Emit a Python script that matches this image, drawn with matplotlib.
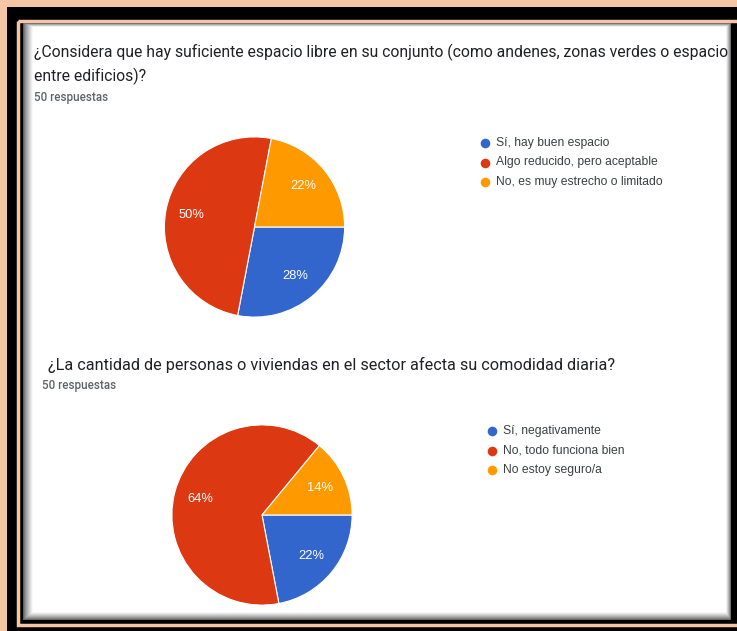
import numpy as np
import matplotlib
matplotlib.use("Agg")
import matplotlib.pyplot as plt
from matplotlib.patches import Rectangle

plt.rcParams['font.family'] = ['Roboto', 'DejaVu Sans']

# ---- data ----
q1_title = ["¿Considera que hay suficiente espacio libre en su conjunto (como andenes, zonas verdes o espacio",
            "entre edificios)?"]
q1_labels = ["Sí, hay buen espacio", "Algo reducido, pero aceptable", "No, es muy estrecho o limitado"]
q1_values = [28, 50, 22]

q2_title = ["¿La cantidad de personas o viviendas en el sector afecta su comodidad diaria?"]
q2_labels = ["Sí, negativamente", "No, todo funciona bien", "No estoy seguro/a"]
q2_values = [22, 64, 14]

responses = "50 respuestas"
colors = ["#3366CC", "#DC3912", "#FF9900"]

W, H = 737, 631
fig = plt.figure(figsize=(W / 100, H / 100), dpi=100)
fig.patch.set_facecolor("#F5C6A5")

bg = fig.add_axes([0, 0, 1, 1])
bg.set_xlim(0, W)
bg.set_ylim(H, 0)
bg.axis("off")

# frame
bg.add_patch(Rectangle((7, 7), W, H, facecolor="black", edgecolor="none"))
bg.add_patch(Rectangle((18.5, 20.5), W, 604, facecolor="none", edgecolor="#F5C6A5", linewidth=2.5))

# white panel with shadow gradient
x0, y0, x1, y1 = 23, 23, 731, 620
pw, ph = x1 - x0, y1 - y0
xx = np.arange(pw)[None, :] + 0.5
yy = np.arange(ph)[:, None] + 0.5
dl = xx / 10.0
dr = (pw - xx) / 5.0
dt = yy / 4.0
db = (ph - yy) / 8.0
d = np.minimum(np.minimum(dl, dr), np.minimum(dt, db))
val = 0.3 + 0.7 * np.clip(d, 0, 1) ** 0.7
img = np.dstack([val, val, val])
bg.imshow(img, extent=(x0, x1, y1, y0), interpolation="bilinear", aspect="auto", zorder=1)
bg.set_xlim(0, W)
bg.set_ylim(H, 0)

title_color = "#202124"
sub_color = "#5f6368"
arial = ['Liberation Sans', 'DejaVu Sans']

# titles
for i, line in enumerate(q1_title):
    bg.text(34, 52 + i * 24, line, fontsize=11.35, color=title_color, va="center", ha="left", zorder=3)
bg.text(34, 98, responses, fontsize=8.4, color=sub_color, va="center", ha="left", fontweight="medium", zorder=3)

for i, line in enumerate(q2_title):
    bg.text(48, 365 + i * 24, line, fontsize=11.7, color=title_color, va="center", ha="left", zorder=3)
bg.text(42, 385, responses, fontsize=8.4, color=sub_color, va="center", ha="left", fontweight="medium", zorder=3)


def draw_pie(cx, cy, r, values, labels, lx, ly, ltx):
    ax = fig.add_axes([(cx - r) / W, 1 - (cy + r) / H, 2 * r / W, 2 * r / H])
    ax.pie(values, colors=colors, startangle=0, counterclock=False,
           autopct=lambda p: f"{p:.0f}%", pctdistance=0.71,
           wedgeprops=dict(edgecolor="white", linewidth=0.8),
           textprops=dict(color="white", fontsize=9.3, family=arial))
    ax.set_xlim(-1.01, 1.01)
    ax.set_ylim(-1.01, 1.01)
    ax.set_aspect("equal")
    ax.axis("off")
    for i, (lab, col) in enumerate(zip(labels, colors)):
        y = ly + i * 19.5
        bg.scatter([lx], [y], s=48, color=col, zorder=4, linewidths=0)
        bg.text(ltx, y, lab, fontsize=8.7, color="#3c4043", va="center", ha="left", zorder=4, family=arial)


draw_pie(254.5, 227, 91, q1_values, q1_labels, 485, 143, 496)
draw_pie(262, 515, 91, q2_values, q2_labels, 492, 431, 503)

fig.savefig("out.png", dpi=100, facecolor=fig.get_facecolor())
